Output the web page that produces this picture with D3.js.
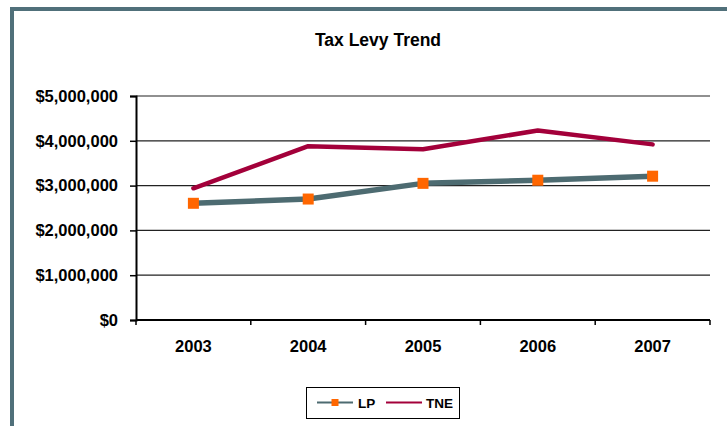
<!DOCTYPE html>
<html>
<head>
<meta charset="utf-8">
<script src="https://cdn.jsdelivr.net/npm/d3@7"></script>
<style>
  html, body { margin: 0; padding: 0; background: #ffffff; }
  svg { display: block; font-family: "Liberation Sans", Arial, sans-serif; }
</style>
</head>
<body>
<svg id="chart" width="727" height="426"></svg>
<script>
// Tax levy by year for the two districts
const years = ["2003", "2004", "2005", "2006", "2007"];
const lpValues = [2605000, 2700000, 3050000, 3120000, 3210000];
const tneValues = [2940000, 3880000, 3810000, 4230000, 3920000];
const yTicks = [0, 1000000, 2000000, 3000000, 4000000, 5000000];
const seriesNames = ["LP", "TNE"];

const svg = d3.select("#chart");
const W = 727, H = 426;
const plot = { left: 136, right: 710, top: 96, bottom: 320 };

// outer frame (left and top edges)
svg.append("rect").attr("x", 10).attr("y", 7).attr("width", 4).attr("height", H - 7).attr("fill", "#50707a");
svg.append("rect").attr("x", 10).attr("y", 7).attr("width", W - 10).attr("height", 4).attr("fill", "#50707a");

// title
svg.append("text")
  .attr("x", 378).attr("y", 46)
  .attr("text-anchor", "middle")
  .attr("font-size", 17.5).attr("font-weight", "bold")
  .text("Tax Levy Trend");

const x = d3.scaleBand().domain(years).range([plot.left, plot.right]).paddingInner(0).paddingOuter(0);
const y = d3.scaleLinear().domain([0, 5000000]).range([plot.bottom, plot.top]);
const fmt = v => "$" + d3.format(",")(v);

// horizontal gridlines
svg.append("g").selectAll("line").data(yTicks.filter(d => d > 0)).join("line")
  .attr("x1", plot.left).attr("x2", plot.right)
  .attr("y1", d => y(d)).attr("y2", d => y(d))
  .attr("stroke", "#222").attr("stroke-width", 1.2);

// y axis
const yAxis = svg.append("g").attr("transform", `translate(${plot.left},0)`)
  .call(d3.axisLeft(y).tickValues(yTicks).tickFormat(fmt).tickSize(6).tickPadding(12));
yAxis.select(".domain").attr("stroke", "#000").attr("stroke-width", 2);
yAxis.selectAll(".tick line").attr("stroke", "#000").attr("stroke-width", 1.5);
yAxis.selectAll(".tick text")
  .attr("font-size", 16.5).attr("font-weight", "bold").attr("fill", "#000")
  .attr("font-family", "Liberation Sans, Arial, sans-serif");

// x axis with ticks on category boundaries
const xAxisG = svg.append("g").attr("transform", `translate(0,${plot.bottom})`);
xAxisG.append("line").attr("x1", plot.left).attr("x2", plot.right).attr("y1", 0).attr("y2", 0)
  .attr("stroke", "#000").attr("stroke-width", 2);
const bounds = years.map(d => x(d)).concat([x(years[years.length - 1]) + x.bandwidth()]);
xAxisG.selectAll("line.tk").data(bounds).join("line").attr("class", "tk")
  .attr("x1", d => d).attr("x2", d => d).attr("y1", 0).attr("y2", 5)
  .attr("stroke", "#000").attr("stroke-width", 1.5);
xAxisG.selectAll("text").data(years).join("text")
  .attr("x", d => x(d) + x.bandwidth() / 2).attr("y", 32)
  .attr("text-anchor", "middle")
  .attr("font-size", 16.5).attr("font-weight", "bold")
  .text(d => d);

const cx = d => x(d) + x.bandwidth() / 2;
const line = d3.line().x(d => cx(d.year)).y(d => y(d.value));
const lpData = years.map((yr, i) => ({ year: yr, value: lpValues[i] }));
const tneData = years.map((yr, i) => ({ year: yr, value: tneValues[i] }));

const lpColor = "#4d6b71", tneColor = "#a3003a", markerColor = "#ff6600";

svg.append("path").datum(lpData).attr("d", line)
  .attr("fill", "none").attr("stroke", lpColor).attr("stroke-width", 5.5).attr("stroke-linejoin", "round");
svg.append("path").datum(tneData).attr("d", line)
  .attr("fill", "none").attr("stroke", tneColor).attr("stroke-width", 4.5)
  .attr("stroke-linejoin", "round").attr("stroke-linecap", "round");

const ms = 11;
svg.append("g").selectAll("rect").data(lpData).join("rect")
  .attr("x", d => cx(d.year) - ms / 2).attr("y", d => y(d.value) - ms / 2)
  .attr("width", ms).attr("height", ms).attr("fill", markerColor);

// legend
const lg = svg.append("g");
lg.append("rect").attr("x", 306.5).attr("y", 387.5).attr("width", 153).attr("height", 31)
  .attr("fill", "#fff").attr("stroke", "#000").attr("stroke-width", 1);
const ly = 402.5;
lg.append("line").attr("x1", 317).attr("x2", 353).attr("y1", ly).attr("y2", ly)
  .attr("stroke", lpColor).attr("stroke-width", 2);
lg.append("rect").attr("x", 335 - 3.5).attr("y", ly - 3.5).attr("width", 7).attr("height", 7).attr("fill", markerColor);
lg.append("text").attr("x", 358).attr("y", ly + 5).attr("font-size", 13.5).attr("font-weight", "bold").text(seriesNames[0]);
lg.append("line").attr("x1", 386).attr("x2", 422).attr("y1", ly).attr("y2", ly)
  .attr("stroke", tneColor).attr("stroke-width", 2);
lg.append("text").attr("x", 426).attr("y", ly + 5).attr("font-size", 13.5).attr("font-weight", "bold").text(seriesNames[1]);
</script>
</body>
</html>
